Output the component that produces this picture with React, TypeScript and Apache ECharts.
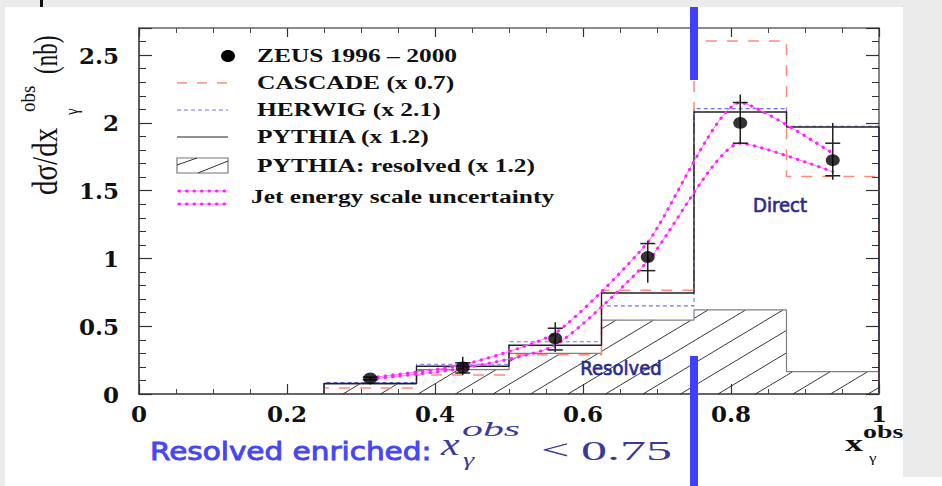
import React, { useEffect, useRef } from "react";
import * as echarts from "echarts";

// Bins in x_gamma^obs and their centres
const binEdges = [0.25, 0.375, 0.5, 0.625, 0.75, 0.875, 1.0];
const binCentres = [0.3125, 0.4375, 0.5625, 0.6875, 0.8125, 0.9375];

// ZEUS 1996-2000 data with statistical and total uncertainties
const zeusValues = [0.115, 0.195, 0.41, 1.01, 2.0, 1.725];
const zeusStatLow = [0.105, 0.155, 0.325, 0.91, 1.85, 1.61];
const zeusStatHigh = [0.125, 0.23, 0.485, 1.11, 2.15, 1.85];
const zeusTotLow = [0.1, 0.14, 0.31, 0.82, 1.85, 1.58];
const zeusTotHigh = [0.13, 0.275, 0.53, 1.125, 2.21, 2.0];

// Monte Carlo predictions (scaled)
const cascadeValues = [0.045, 0.14, 0.29, 0.765, 2.605, 1.605];
const herwigValues = [0.085, 0.22, 0.385, 0.65, 2.105, 1.975];
const pythiaValues = [0.078, 0.205, 0.36, 0.745, 2.08, 1.97];
const pythiaResolvedValues = [0.075, 0.18, 0.3, 0.545, 0.62, 0.165];

// Jet energy scale uncertainty band edges
const jesUpper = [0.12, 0.215, 0.45, 1.12, 2.15, 1.775];
const jesLower = [0.11, 0.19, 0.36, 0.98, 1.85, 1.64];

// Axis tick labels
const xTickLabels = ["0", "0.2", "0.4", "0.6", "0.8", "1"];
const yTickLabels = ["0", "0.5", "1", "1.5", "2", "2.5"];

const enrichedCut = 0.75;

const seriesNames = [
  "ZEUS 1996 \u2013 2000",
  "CASCADE (x 0.7)",
  "HERWIG (x 2.1)",
  "PYTHIA (x 1.2)",
  "PYTHIA: resolved (x 1.2)",
  "Jet energy scale uncertainty",
];

const SERIF = "Liberation Serif";
const LABEL_FONT = "DejaVu Serif";

const CASCADE_COLOR = "#ff8a7a";
const HERWIG_COLOR = "#6e6eff";
const PYTHIA_COLOR = "#222222";
const RESOLVED_COLOR = "#808080";
const JES_LINE = "#ff77ff";
const JES_DOT = "#ff22ff";
const JES_SMOOTH = 0.2;

// hatch geometry (pixels)
const HATCH_GAP = 37.5;
const HATCH_SLOPE = 0.6;
const HATCH_PHASE = 16.5;

function stepPoints(vals: number[]): number[][] {
  const pts: number[][] = [[binEdges[0], 0]];
  vals.forEach((v, i) => {
    pts.push([binEdges[i], v], [binEdges[i + 1], v]);
  });
  pts.push([binEdges[binEdges.length - 1], 0]);
  return pts;
}

function text(
  str: string,
  x: number,
  y: number,
  size: number,
  o: {
    family?: string;
    weight?: string;
    style?: string;
    fill?: string;
    align?: string;
    sx?: number;
    sy?: number;
    stroke?: number;
  } = {}
) {
  const align = o.align || "left";
  const fill = o.fill || "#111";
  return {
    type: "text",
    x,
    y,
    scaleX: o.sx ?? 1,
    scaleY: o.sy ?? 1,
    silent: true,
    z: 10,
    style: {
      text: str,
      fontFamily: o.family || SERIF,
      fontSize: size,
      fontWeight: o.weight || "normal",
      fontStyle: o.style || "normal",
      fill,
      stroke: o.stroke ? fill : undefined,
      lineWidth: o.stroke || 0,
      align,
      textAlign: align,
      verticalAlign: "middle",
      textVerticalAlign: "middle",
    },
  };
}

function hline(x1: number, x2: number, y: number, style: any) {
  return { type: "line", silent: true, z: 10, shape: { x1, y1: y, x2, y2: y }, style };
}

function buildGraphics(cutX: number) {
  const symL = 177;
  const symR = 228;
  const textX = 257;
  const rows = [56, 83, 110, 137, 166, 197];
  const legendFont = { weight: "bold", sx: 1.34 };
  const mathColor = "#3b3a9a";
  const g: any[] = [];

  // legend
  g.push({
    type: "ellipse",
    silent: true,
    z: 10,
    shape: { cx: symR, cy: rows[0], rx: 7, ry: 6 },
    style: { fill: "#000" },
  });
  g.push(hline(symL, symR, rows[1], { stroke: CASCADE_COLOR, lineWidth: 1.3, lineDash: [10, 10] }));
  g.push(hline(symL, symR, rows[2], { stroke: HERWIG_COLOR, lineWidth: 1.1, lineDash: [4, 3] }));
  g.push(hline(symL, symR, rows[3], { stroke: PYTHIA_COLOR, lineWidth: 1.2 }));
  g.push({
    type: "rect",
    silent: true,
    z: 10,
    shape: { x: symL, y: 158, width: symR - symL, height: 15 },
    style: { fill: "none", stroke: "#777", lineWidth: 1.2 },
  });
  g.push({ type: "line", silent: true, z: 10, shape: { x1: 177, y1: 165, x2: 197, y2: 158 }, style: { stroke: "#333", lineWidth: 1 } });
  g.push({ type: "line", silent: true, z: 10, shape: { x1: 198, y1: 173, x2: 228, y2: 161 }, style: { stroke: "#333", lineWidth: 1 } });
  [191, 204].forEach((y) => {
    g.push(hline(symL, symR, y, { stroke: JES_LINE, lineWidth: 1 }));
    g.push(hline(symL + 2, symR, y, { stroke: JES_DOT, lineWidth: 3, lineDash: [0.5, 7], lineCap: "round" }));
  });
  seriesNames.forEach((name, i) => {
    g.push(text(name, i === 5 ? 251 : textX, rows[i], 19, legendFont));
  });

  // y-axis title, rotated
  g.push({
    type: "group",
    x: 45,
    y: 195,
    rotation: Math.PI / 2,
    silent: true,
    children: [
      text("d\u03c3/dx", 0, 0, 29, { sy: 1.2 }),
      text("obs", 83, -17, 19, { sy: 1.15 }),
      text("\u03b3", 80, 27, 15, { sy: 1.2 }),
      text("(nb)", 121, 0, 23, { sy: 1.5 }),
    ],
  });

  // x-axis title
  g.push(text("x", 845, 443, 24, { weight: "bold", sx: 1.5 }));
  g.push(text("obs", 863, 432, 18, { weight: "bold", sx: 1.55 }));
  g.push(text("\u03b3", 869, 458, 13, { sx: 1.3 }));

  // region annotations
  g.push(text("Direct", 780, 205, 19, { family: "DejaVu Sans", fill: "#2c2b8c", align: "center", sx: 0.95, stroke: 0.7 }));
  g.push(text("Resolved", 621, 368, 19, { family: "DejaVu Sans", fill: "#2c2b8c", align: "center", sx: 0.95, stroke: 0.7 }));

  // cut statement
  g.push(text("Resolved enriched:", 150, 451, 25, { family: "DejaVu Sans", fill: "#4646f5", sx: 1.18, stroke: 0.9 }));
  g.push(text("x", 441, 444, 32, { style: "italic", fill: mathColor, sx: 1.3 }));
  g.push(text("obs", 462, 428, 22, { style: "italic", fill: mathColor, sx: 1.9 }));
  g.push(text("\u03b3", 463, 459, 19, { style: "italic", fill: mathColor, sx: 1.5 }));
  g.push(text("<", 541, 450, 28, { fill: mathColor, sx: 1.8 }));
  g.push(text("0.75", 581, 451, 28, { fill: mathColor, sx: 1.86 }));

  // x = 0.75 marker bars
  g.push({
    type: "rect",
    silent: true,
    z: 20,
    shape: { x: cutX - 4, y: 7, width: 8, height: 73 },
    style: { fill: "#3f3fff" },
  });
  g.push({
    type: "rect",
    silent: true,
    z: 20,
    shape: { x: cutX - 4, y: 356, width: 8, height: 130 },
    style: { fill: "#3f3fff" },
  });
  return g;
}

function xAxisDef(position: "bottom" | "top", labels: boolean) {
  return {
    type: "value",
    min: 0,
    max: 1,
    interval: 0.2,
    position,
    axisLine: { show: true, onZero: false, lineStyle: { color: position === "bottom" ? "#333" : "#666", width: 1.6 } },
    axisTick: { show: true, inside: true, length: position === "bottom" ? 10 : 9, lineStyle: { color: "#333", width: 1.2 } },
    minorTick: { show: true, splitNumber: 4, length: 5, lineStyle: { color: "#444", width: 1 } },
    splitLine: { show: false },
    minorSplitLine: { show: false },
    axisLabel: {
      show: labels,
      margin: 8,
      color: "#111",
      fontFamily: LABEL_FONT,
      fontWeight: "bold",
      fontSize: 23,
      formatter: (v: number) => {
        const i = Math.round(v / 0.2);
        return Math.abs(v - i * 0.2) < 1e-6 ? xTickLabels[i] ?? "" : "";
      },
    },
  };
}

function yAxisDef(position: "left" | "right", major: boolean) {
  return {
    type: "value",
    min: 0,
    max: 2.7,
    interval: major ? 0.5 : 0.1,
    position,
    axisLine: {
      show: major,
      onZero: false,
      lineStyle: { color: position === "left" ? "#333" : "#666", width: 1.6 },
    },
    axisTick: { show: true, inside: true, length: major ? 13 : 7, lineStyle: { color: "#333", width: major ? 1.2 : 1 } },
    splitLine: { show: false },
    axisLabel: {
      show: major && position === "left",
      margin: 20,
      color: "#111",
      fontFamily: LABEL_FONT,
      fontWeight: "bold",
      fontSize: 23,
      formatter: (v: number) => {
        const i = Math.round(v / 0.5);
        return Math.abs(v - i * 0.5) < 1e-6 ? yTickLabels[i] ?? "" : "";
      },
    },
  };
}

function stepSeries(name: string, vals: number[], lineStyle: any, z: number) {
  return {
    type: "line",
    name,
    data: stepPoints(vals),
    symbol: "none",
    silent: true,
    lineStyle,
    z,
  };
}

function jesSeries(name: string, vals: number[]) {
  const data = binCentres.map((x, i) => [x, vals[i]]);
  return [
    { type: "line", name, data, smooth: JES_SMOOTH, symbol: "none", silent: true, lineStyle: { color: JES_LINE, width: 1 }, z: 5 },
    {
      type: "line",
      name,
      data,
      smooth: JES_SMOOTH,
      symbol: "none",
      silent: true,
      lineStyle: { color: JES_DOT, width: 3, type: [0.5, 7], cap: "round" },
      z: 5,
    },
  ];
}

export default function App() {
  const ref = useRef<HTMLDivElement>(null);

  useEffect(() => {
    document.body.style.margin = "0";
    const chart = echarts.init(ref.current!, null, { renderer: "svg" });

    const option: any = {
      animation: false,
      grid: { left: 139, right: 63, top: 28, bottom: 92, containLabel: false },
      xAxis: [xAxisDef("bottom", true), xAxisDef("top", false)],
      yAxis: [yAxisDef("left", true), yAxisDef("left", false), yAxisDef("right", true), yAxisDef("right", false)],
      series: [
        {
          type: "custom",
          name: seriesNames[4],
          silent: true,
          z: 1,
          data: pythiaResolvedValues.map((v, i) => [binEdges[i], binEdges[i + 1], v]),
          encode: { x: [0, 1], y: 2 },
          renderItem: (_params: any, api: any) => {
            const lo = api.value(0);
            const hi = api.value(1);
            const v = api.value(2);
            const p0 = api.coord([lo, 0]);
            const p1 = api.coord([hi, v]);
            const origin = api.coord([0, 0]);
            const xa = p0[0];
            const xb = p1[0];
            const yb = p0[1];
            const h = yb - p1[1];
            const run = h / HATCH_SLOPE;
            const children: any[] = [];
            const k0 = Math.floor((xa - run - origin[0] - HATCH_PHASE) / HATCH_GAP);
            for (let k = k0; k < k0 + 200; k++) {
              const c = origin[0] + HATCH_PHASE + k * HATCH_GAP;
              if (c > xb) break;
              const xs = Math.max(xa, c);
              const xe = Math.min(xb, c + run);
              if (xe - xs > 0.5) {
                children.push({
                  type: "line",
                  shape: { x1: xs, y1: yb - HATCH_SLOPE * (xs - c), x2: xe, y2: yb - HATCH_SLOPE * (xe - c) },
                  style: { stroke: "#222", lineWidth: 0.9 },
                });
              }
            }
            return { type: "group", children };
          },
        },
        stepSeries(seriesNames[4], pythiaResolvedValues, { color: RESOLVED_COLOR, width: 1.2 }, 2),
        stepSeries(seriesNames[1], cascadeValues, { color: CASCADE_COLOR, width: 1.5, type: [11, 10] }, 3),
        stepSeries(seriesNames[2], herwigValues, { color: HERWIG_COLOR, width: 1.1, type: [4, 3] }, 3),
        stepSeries(seriesNames[3], pythiaValues, { color: PYTHIA_COLOR, width: 1.4 }, 4),
        ...jesSeries(seriesNames[5], jesUpper),
        ...jesSeries(seriesNames[5], jesLower),
        {
          type: "custom",
          name: seriesNames[0],
          silent: true,
          z: 6,
          data: binCentres.map((x, i) => [x, zeusStatLow[i], zeusStatHigh[i], zeusTotLow[i], zeusTotHigh[i]]),
          encode: { x: 0, y: [1, 2, 3, 4] },
          renderItem: (_params: any, api: any) => {
            const x = api.value(0);
            const sLo = api.coord([x, api.value(1)]);
            const sHi = api.coord([x, api.value(2)]);
            const tLo = api.coord([x, api.value(3)]);
            const tHi = api.coord([x, api.value(4)]);
            const st = { stroke: "#222", lineWidth: 1.5 };
            return {
              type: "group",
              children: [
                { type: "line", shape: { x1: tLo[0], y1: tLo[1], x2: tHi[0], y2: tHi[1] }, style: st },
                { type: "line", shape: { x1: sLo[0] - 7.5, y1: sLo[1], x2: sLo[0] + 7.5, y2: sLo[1] }, style: st },
                { type: "line", shape: { x1: sHi[0] - 7.5, y1: sHi[1], x2: sHi[0] + 7.5, y2: sHi[1] }, style: st },
              ],
            };
          },
        },
        {
          type: "scatter",
          name: seriesNames[0],
          data: binCentres.map((x, i) => [x, zeusValues[i]]),
          symbol: "circle",
          symbolSize: [14, 12],
          itemStyle: { color: "#000" },
          silent: true,
          z: 7,
        },
      ],
    };

    chart.setOption(option);
    const cutX = chart.convertToPixel({ xAxisIndex: 0 }, enrichedCut) as number;
    chart.setOption({ graphic: buildGraphics(cutX) });

    return () => chart.dispose();
  }, []);

  return (
    <div style={{ position: "fixed", left: 0, top: 0, width: 942, height: 486, background: "#ebebeb", overflow: "hidden" }}>
      <div style={{ position: "absolute", left: 5, top: 7, width: 898, height: 479, background: "#fff" }} />
      <div style={{ position: "absolute", left: 903, top: 477, width: 39, height: 9, background: "#fff" }} />
      <div style={{ position: "absolute", left: 40, top: 0, width: 3, height: 7, background: "#111" }} />
      <div ref={ref} style={{ position: "absolute", left: 0, top: 0, width: 942, height: 486 }} />
    </div>
  );
}
